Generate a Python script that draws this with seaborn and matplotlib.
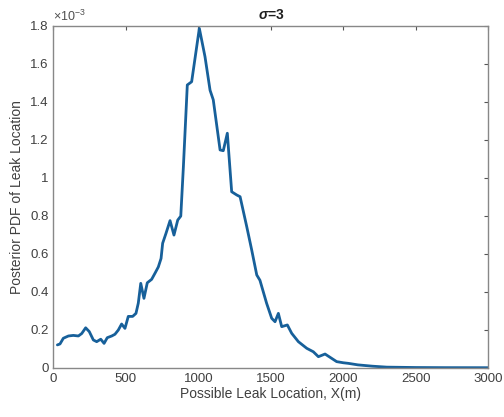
import numpy as np
import pandas as pd
import matplotlib
matplotlib.use("Agg")
import matplotlib.pyplot as plt
import seaborn as sns
from matplotlib.ticker import FuncFormatter

# Data (x in metres, PDF in units of 1e-3)
x_loc = [28, 46, 69, 104, 138, 173, 196, 223, 248, 276, 299, 327, 350, 372, 403,
         425, 448, 471, 494, 517, 547, 570, 586, 603, 625, 648, 678, 701, 724, 743,
         754, 777, 805, 832, 858, 879, 897, 924, 954, 1007, 1046, 1081, 1103, 1150,
         1172, 1200, 1230, 1265, 1288, 1334, 1368, 1403, 1425, 1471, 1506, 1529,
         1552, 1575, 1614, 1644, 1690, 1748, 1793, 1828, 1874, 1908, 1954, 2000,
         2034, 2100, 2200, 2300, 2400, 2500, 2700, 3000]
pdf_e3 = [0.120, 0.125, 0.155, 0.167, 0.170, 0.167, 0.180, 0.210, 0.190, 0.146,
          0.137, 0.150, 0.128, 0.158, 0.167, 0.176, 0.198, 0.230, 0.207, 0.270,
          0.270, 0.286, 0.340, 0.444, 0.365, 0.447, 0.465, 0.497, 0.530, 0.575,
          0.655, 0.707, 0.774, 0.698, 0.777, 0.798, 1.058, 1.488, 1.505, 1.786,
          1.637, 1.460, 1.410, 1.146, 1.142, 1.234, 0.926, 0.909, 0.900, 0.742,
          0.620, 0.488, 0.460, 0.339, 0.260, 0.242, 0.286, 0.216, 0.225, 0.181,
          0.137, 0.102, 0.084, 0.058, 0.072, 0.055, 0.032, 0.026, 0.023, 0.015,
          0.008, 0.003, 0.002, 0.001, 0.0003, 0.0]
x_ticks = [0, 500, 1000, 1500, 2000, 2500, 3000]
y_ticks_e3 = [0, 0.2, 0.4, 0.6, 0.8, 1.0, 1.2, 1.4, 1.6, 1.8]

df = pd.DataFrame({"x": x_loc, "pdf": np.array(pdf_e3) * 1e-3})

sns.set_style("white")
plt.rcParams['font.family'] = ['Liberation Sans', 'DejaVu Sans']
plt.rcParams['mathtext.fontset'] = 'custom'
plt.rcParams['mathtext.rm'] = 'Liberation Sans'
plt.rcParams['mathtext.it'] = 'Liberation Sans:italic'
plt.rcParams['mathtext.bf'] = 'Liberation Sans:bold:italic'

fig = plt.figure(figsize=(5.04, 4.17), dpi=100)
ax = fig.add_axes([0.1058, 0.1182, 0.8631, 0.8202])

sns.lineplot(data=df, x="x", y="pdf", ax=ax, color="#17609a", linewidth=2.0)

ax.set_xlim(0, 3000)
ax.set_ylim(0, 1.8e-3)
ax.set_xticks(x_ticks)
ax.set_yticks(np.array(y_ticks_e3) * 1e-3)
ax.yaxis.set_major_formatter(FuncFormatter(lambda v, p: "%g" % round(v * 1e3, 3)))

ax.text(0.0, 1.004, r"$\times10^{-3}$", transform=ax.transAxes, fontsize=9,
        color="#505050", ha="left", va="bottom")

gray = "#888888"
for s in ax.spines.values():
    s.set_color(gray)
    s.set_linewidth(1.0)
ax.tick_params(direction="in", top=True, right=True, length=3, width=0.8,
               color="#555555", labelsize=9.5, labelcolor="#404040")

ax.set_xlabel("Possible Leak Location, X(m)", fontsize=10, color="#404040", labelpad=2)
ax.set_ylabel("Posterior PDF of Leak Location", fontsize=10, color="#404040", labelpad=4)
ax.set_title(r"$\mathbf{\sigma}$=3", fontsize=10, fontweight="bold", color="#202020", pad=5)

fig.savefig("out.png", dpi=100)
